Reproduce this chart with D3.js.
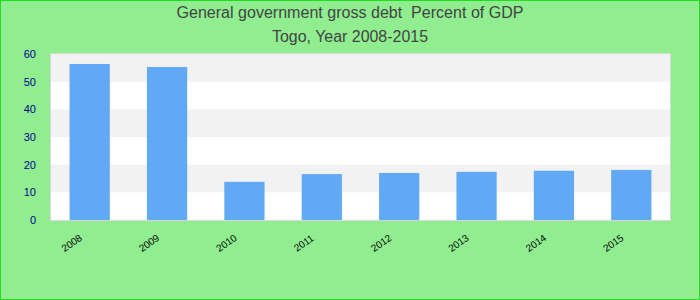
<!DOCTYPE html>
<html lang="en">
<head>
<style>
  body { margin: 0; }
  svg { display: block; }
  .y.axis text { font: 11px "Liberation Sans", Arial, sans-serif; fill: #00008b; }
  .x.axis text { font: 10px "Liberation Sans", Arial, sans-serif; fill: #000; }
  .axis path, .axis line { display: none; }
</style>
<script src="https://d3js.org/d3.v7.min.js" charset="utf-8"></script>
</head>
<body>
<script>
  let years = ["2008", "2009", "2010", "2011", "2012", "2013", "2014", "2015"];
  let debt = [56.4, 55.3, 13.8, 16.6, 17.0, 17.4, 17.8, 18.1];
  let yTicks = [0, 10, 20, 30, 40, 50, 60];
  let titles = ["General government gross debt  Percent of GDP", "Togo, Year 2008-2015"];
  let titleWidths = [347, 156];

  let W = 700, H = 300;
  let marginLeft = 51, marginTop = 54, plotW = 619, plotH = 166;

  let svg = d3.select("body").append("svg")
    .attr("width", W)
    .attr("height", H);

  svg.append("rect")
    .attr("x", 0.5).attr("y", 0.5)
    .attr("width", W - 1).attr("height", H - 1)
    .style("fill", "#90ee90")
    .style("stroke", "#22dd22");

  svg.selectAll(".title")
    .data(titles)
    .enter().append("text")
    .attr("class", "title")
    .attr("x", W / 2)
    .attr("y", function(d, i) { return 18 + i * 24; })
    .attr("text-anchor", "middle")
    .attr("textLength", function(d, i) { return titleWidths[i]; })
    .attr("lengthAdjust", "spacingAndGlyphs")
    .style("font", "16px 'Liberation Sans', Arial, sans-serif")
    .style("white-space", "pre")
    .style("fill", "#444")
    .text(function(d) { return d; });

  let g = svg.append("g")
    .attr("transform", "translate(" + marginLeft + "," + marginTop + ")");

  let x = d3.scaleBand()
    .domain(years)
    .range([0, plotW])
    .paddingInner(0.48)
    .paddingOuter(0.24);

  let y = d3.scaleLinear()
    .domain([0, 60])
    .range([plotH, 0]);

  g.append("rect")
    .attr("width", plotW).attr("height", plotH)
    .style("fill", "#fff");

  // alternating stripes
  g.selectAll(".stripe")
    .data(yTicks.slice(1).filter(function(d) { return d % 20 === 0; }))
    .enter().append("rect")
    .attr("class", "stripe")
    .attr("x", 0)
    .attr("width", plotW)
    .attr("y", function(d) { return y(d); })
    .attr("height", function(d) { return y(d - 10) - y(d); })
    .style("fill", "#f2f2f2");

  g.selectAll(".bar")
    .data(debt)
    .enter().append("rect")
    .attr("class", "bar")
    .attr("x", function(d, i) { return x(years[i]); })
    .attr("width", x.bandwidth())
    .attr("y", function(d) { return y(d); })
    .attr("height", function(d) { return plotH - y(d); })
    .style("fill", "#62a9f5");

  g.append("rect")
    .attr("x", -0.5).attr("y", -0.5)
    .attr("width", plotW + 1).attr("height", plotH + 1)
    .style("fill", "none")
    .style("stroke", "#d8d8d8");

  g.append("g")
    .attr("class", "y axis")
    .attr("transform", "translate(-12,0)")
    .call(d3.axisLeft(y).tickValues(yTicks).tickSize(0));

  let xa = g.append("g")
    .attr("class", "x axis")
    .attr("transform", "translate(0," + plotH + ")")
    .call(d3.axisBottom(x).tickSize(0));

  xa.selectAll("text")
    .attr("dy", "0.35em")
    .attr("y", 0)
    .attr("text-anchor", "middle")
    .attr("transform", "translate(-18,23) rotate(-35)");
</script>
</body>
</html>
